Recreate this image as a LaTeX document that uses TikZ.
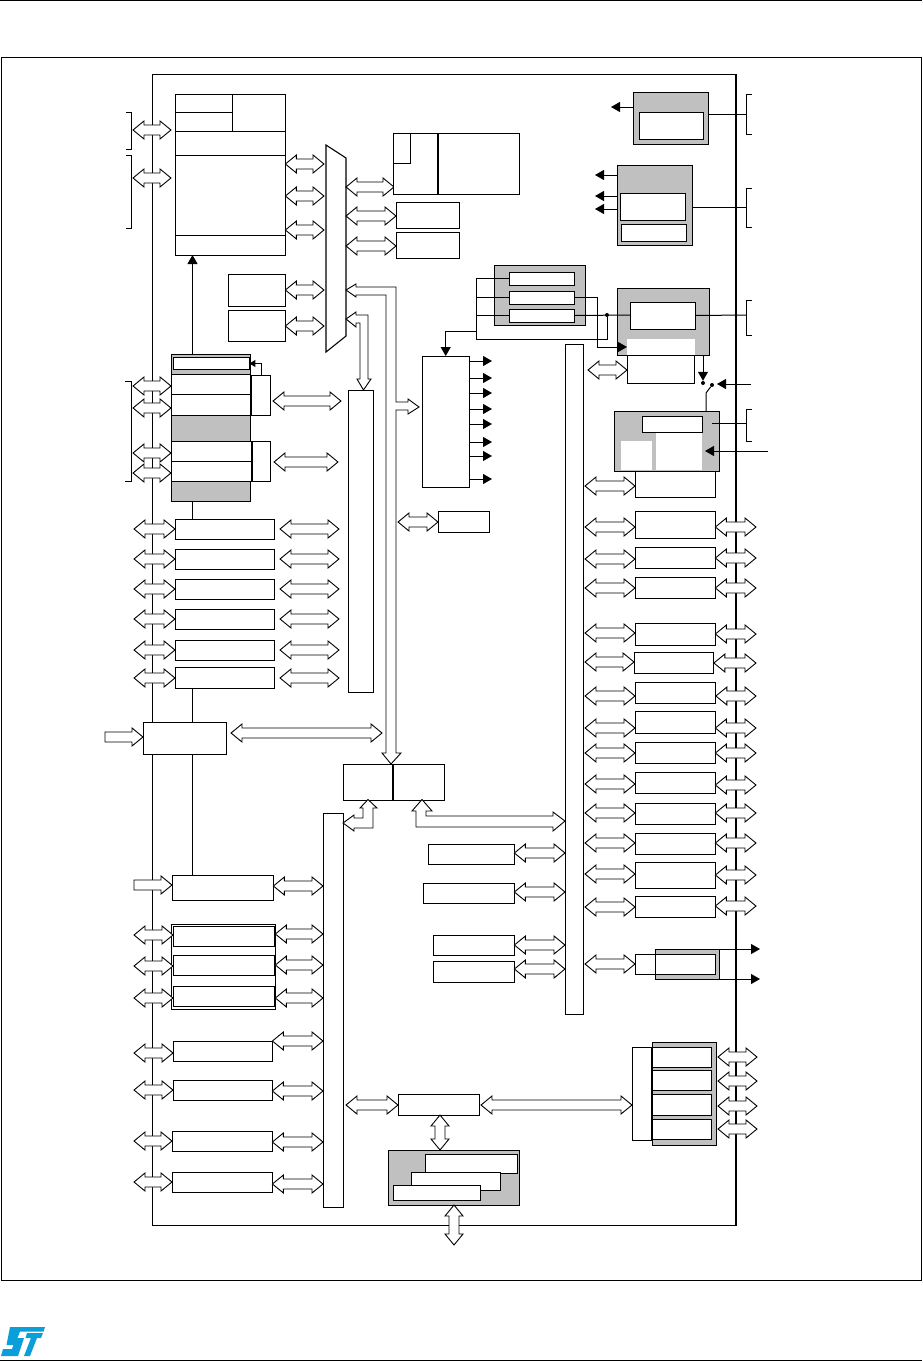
\documentclass[tikz,border=0pt]{standalone}
\usetikzlibrary{calc,arrows.meta}
\definecolor{gr}{HTML}{C0C0C0}
\definecolor{stblue}{HTML}{0B9FD9}
\tikzset{
  blk/.style={draw=black,line width=1pt,fill=white,inner sep=0pt,outer sep=0pt,anchor=north west},
  grey/.style={fill=gr},
  bare/.style={draw=none},
  ba/.style={draw=black,line width=0.9pt,fill=white,line join=miter},
  conn/.style={draw=black,line width=1pt},
  sa/.style={conn,-{Triangle[length=9pt,width=10pt]}},
  dotn/.style={circle,fill=black,inner sep=0pt,minimum size=4pt},
}
% box by corners
\newcommand\bx[6][]{\node[blk,#1,minimum width={(#4-#2-0.6)*1pt},minimum height={(#5-#3)*1pt}] (#6) at (#2,#3) {};}
% horizontal double block arrow between two coordinates at height y
\newcommand\dah[3]{\draw[ba] let \p1=(#1),\p2=(#2) in
  (\x1,#3) -- ([shift={(11,-9)}]\x1,#3) -- ([shift={(11,-5)}]\x1,#3) -- ([shift={(-11,-5)}]\x2,#3) -- ([shift={(-11,-9)}]\x2,#3) -- (\x2,#3)
  -- ([shift={(-11,9)}]\x2,#3) -- ([shift={(-11,5)}]\x2,#3) -- ([shift={(11,5)}]\x1,#3) -- ([shift={(11,9)}]\x1,#3) -- cycle;}
% vertical double block arrow
\newcommand\dav[3]{\draw[ba] let \p1=(#2),\p2=(#3) in
  (#1,\y1) -- ([shift={(9,11)}]#1,\y1) -- ([shift={(5,11)}]#1,\y1) -- ([shift={(5,-11)}]#1,\y2) -- ([shift={(9,-11)}]#1,\y2) -- (#1,\y2)
  -- ([shift={(-9,-11)}]#1,\y2) -- ([shift={(-5,-11)}]#1,\y2) -- ([shift={(-5,11)}]#1,\y1) -- ([shift={(-9,11)}]#1,\y1) -- cycle;}
% single block arrow with flat tail
\newcommand\rah[3]{\draw[ba] let \p1=(#1),\p2=(#2) in
  ([shift={(0,-5)}]\x1,#3) -- ([shift={(-11,-5)}]\x2,#3) -- ([shift={(-11,-9)}]\x2,#3) -- (\x2,#3)
  -- ([shift={(-11,9)}]\x2,#3) -- ([shift={(-11,5)}]\x2,#3) -- ([shift={(0,5)}]\x1,#3) -- cycle;}
\begin{document}
\begin{tikzpicture}[x=1pt,y=-1pt]
\useasboundingbox (0,0) rectangle (922,1361);
% page furniture
\coordinate (pgTL) at (0,0.5); \coordinate (pgTR) at (922,0.5);
\coordinate (pgBL) at (0,1360); \coordinate (pgBR) at (922,1360);
\draw[conn] (pgTL) -- (pgTR);
\draw[conn] (pgBL) -- (pgBR);
\draw[conn] (1.5,57) rectangle (921,1280);
\fill[stblue] (10,1327) -- (45,1327) -- (43.5,1331.5) -- (20,1331.5) -- (17.5,1338) -- (24,1338) -- (18,1356) -- (1,1356) -- (3,1349) -- (12,1349) -- (13.5,1345) -- (6.5,1345) -- cycle;
\fill[stblue] (27,1333) -- (43,1333) -- (41,1338) -- (37,1338) -- (30,1356) -- (24,1356) -- (31,1338) -- (25.5,1338) -- cycle;
% chip outline
\draw[conn] (736,74) -- (152,74) -- (152,1225) -- (736,1225);
\draw[draw=black,line width=2pt] (736,73.5) -- (736,1226);
% rails
\coordinate (lp) at (134,0); \coordinate (lq) at (133,0); \coordinate (rp) at (756,0);
\coordinate (busA) at (585,0); \coordinate (muxW) at (324,0); \coordinate (muxE) at (346,0);
\coordinate (colW) at (339,0); \coordinate (lowC) at (323,0); \coordinate (tcolW) at (565,0);
% brackets
\draw[conn] (126,112) -- (131.5,112) -- (131.5,149) -- (126,149);
\draw[conn] (126,155) -- (131.5,155) -- (131.5,228) -- (126,228);
\draw[conn] (125,381.5) -- (131.5,381.5) -- (131.5,481) -- (125,481);
\draw[conn] (752,94) -- (746,94) -- (746,134) -- (752,134);
\draw[conn] (752,188) -- (746,188) -- (746,227) -- (752,227);
\draw[conn] (752,300) -- (746,300) -- (746,335) -- (752,335);
\draw[conn] (752,409) -- (746,409) -- (746,441) -- (752,441);
% flash block
\bx{175}{94}{286}{255}{flash}
\draw[conn] (175,131) -- (flash.east |- 0,131) (175,155) -- (flash.east |- 0,155) (175,235) -- (flash.east |- 0,235) (232,94) -- (232,131) (175,112) -- (232,112);
\bx{228}{274}{286}{306}{memA}
\bx{228}{310}{286}{341}{memB}
\dah{lq}{171,0}{130}
\dah{lq}{171,0}{178}
% bus matrix
\draw[ba,line width=1.1pt] (326,145) -- (346,158) -- (346,336) -- (326,352) -- cycle;
\foreach \yy in {164,196,230,290,326} {\dah{flash.east}{muxW}{\yy}}
\dah{muxE}{394,0}{187}
\dah{muxE}{396,0}{216}
\dah{muxE}{396,0}{246}
\bx{393}{133}{520}{194}{core}
\bx{393}{133}{411}{163}{coreA}
\draw[draw=black,line width=1.5pt] (438,133) -- (438,194);
\bx{396}{202}{460}{228}{regA}
\bx{396}{232}{460}{258}{regB}
% left stack
\bx[grey]{171}{354.5}{251}{374}{stTop}
\bx{173.5}{357.5}{250}{369.5}{stIn}
\bx{171}{374}{251}{394}{stA}
\bx{171}{394}{251}{415.5}{stB}
\bx[grey]{171}{415.5}{251}{441}{stC}
\bx{171}{441}{252}{461}{stD}
\bx{171}{461}{252}{481}{stE}
\bx[grey]{171}{481}{251}{501}{stF}
\bx{251}{375}{271}{415.5}{sdA}
\bx{252}{441}{271}{481}{sdB}
\draw[conn,-{Triangle[length=6pt,width=7pt]}] (261,375) |- (stIn.east);
\draw[sa] (stTop.north -| 192.5,0) -- (flash.south -| 192.5,0);
% peripheral column left
\bx{348}{390}{374}{692}{colA}
\foreach \yy in {386,408,453,473} {\dah{lq}{stA.west}{\yy}}
\dah{273,0}{341,0}{401}
\dah{274,0}{338,0}{462}
\bx{175}{519}{275}{539}{pA}
\bx{175}{549}{275}{569}{pB}
\bx{175}{579}{275}{599}{pC}
\bx{175}{609}{275}{629}{pD}
\bx{175}{640}{275}{660}{pE}
\bx{175}{667}{275}{688}{pF}
\foreach \yy in {529,559,589,619,650,678} {\dah{lp}{pA.west}{\yy}\dah{280,0}{colW}{\yy}}
% vertical link
\bx{143}{722}{227}{754}{extA}
\rah{105,0}{extA.west}{737}
\bx{172}{875}{274}{900}{extB}
\rah{lp}{extB.west}{885}
\draw[conn] (stF.south -| 192.5,0) -- (pA.north -| 192.5,0);
\draw[conn] (pF.south -| 192.5,0) -- (extA.north -| 192.5,0);
\draw[conn] (extA.south -| 192.5,0) -- (extB.north -| 192.5,0);
% lower column
\bx{323}{813}{344}{1207}{colB}
\dah{extB.east}{lowC}{886}
\bx{171}{924}{276}{1009.5}{grpT}
\bx{173}{926}{275}{946}{tA}
\bx{173}{955}{275}{975}{tB}
\bx{173}{986}{275}{1006}{tC}
\foreach \yy in {935,966,998} {\dah{lp}{tA.west}{\yy}}
\foreach \yy in {934,965,998} {\dah{grpT.east}{lowC}{\yy}}
\bx{173}{1041}{273}{1061}{uA}
\bx{173}{1080}{273}{1100}{uB}
\bx{172}{1131}{273}{1151}{uC}
\bx{172}{1172}{273}{1192}{uD}
\dah{lp}{uA.west}{1053}
\dah{lp}{uB.west}{1090}
\dah{lp}{uC.west}{1141}
\dah{lp}{uD.west}{1182}
\dah{uA.east}{lowC}{1041}
\dah{uB.east}{lowC}{1091}
\dah{uC.east}{lowC}{1142}
\dah{uD.east}{lowC}{1184}
% central bridge
\bx{343}{764}{393}{800}{brL}
\bx{393}{764}{445}{800}{brR}
\dah{231,0}{382,0}{733}
\draw[ba] (346,290) -- (356,284) -- (356,287) -- (396,287) -- (396,402) -- (408,402) -- (408,399) -- (419,407) -- (408,414) -- (408,410) -- (396,410) -- (396,753) -- (401,753) -- (391,764) -- (382,753) -- (386,753) -- (386,295) -- (356,295) -- (356,297) -- cycle;
\draw[ba] (346,319) -- (356,312) -- (356,315) -- (368,315) -- (368,379) -- (371,379) -- (363.5,390) -- (357,379) -- (360,379) -- (360,323) -- (356,323) -- (356,327) -- cycle;
\draw[ba] (343,823) -- (354,815) -- (354,818) -- (363,818) -- (363,808) -- (360,808) -- (368,799.5) -- (377,808) -- (373,808) -- (373,828) -- (354,828) -- (354,831) -- cycle;
\draw[ba] (422,799.5) -- (432,811) -- (426,811) -- (426,816) -- (553,816) -- (553,812) -- (565,821) -- (553,831) -- (553,827) -- (416,827) -- (416,811) -- (412,811) -- cycle;
\bx{428}{844}{515}{864}{mA}
\bx{423}{883}{515}{903}{mB}
\bx{433}{935}{515}{955}{mC}
\bx{433}{961}{515}{982}{mD}
\dah{mA.east}{tcolW}{853}
\dah{mB.east}{tcolW}{892}
\dah{mC.east}{tcolW}{945}
\dah{mD.east}{tcolW}{969}
% tall column
\bx{565}{344.5}{584}{1014}{colC}
% clock tree
\bx{422}{356}{470}{487}{clk}
\foreach \yy in {361,378,393,409,424,442,456,479} {
  \coordinate (t\yy) at (492,\yy);
  \draw[sa] (clk.east |- t\yy) -- (t\yy);
}
\bx{438}{511}{490}{532}{iwdg}
\dah{398,0}{iwdg.west}{522}
% PLL
\bx[grey]{494}{265}{586}{325}{pll}
\bx{509}{272}{575}{285}{pllA}
\bx{509}{291}{575}{304}{pllB}
\bx{509}{309}{575}{322}{pllC}
% HSE
\bx[grey]{617}{288}{710.5}{355}{hse}
\bx[bare,fill=white]{627}{339}{696}{355}{hseW}
\bx{627}{355}{695.5}{383}{hseB}
\coordinate (busT) at (476,278.5); \coordinate (busB) at (476,339); \coordinate (busM) at (476,331);
\coordinate (jog) at (597,347);
\node[dotn] (dotA) at (607,315) {};
\coordinate (hseMid) at (630,315);
\draw[conn] (pllA.west) -- (busT) -- (busB) -| (dotA);
\draw[conn] (pllB.west) -- (pllB.west -| busT);
\draw[conn] (pllC.west) -- (pllC.west -| busT);
\draw[conn] (pllC.east) -- (hseMid);
\draw[sa] (busM) -| (clk.north);
\draw[sa] (pllB.east) -| (jog) -- (hseW.west);
\bx{630}{302}{696}{329}{hseIn}
\coordinate (brkH) at (746,315);
\draw[conn] (hseIn.east) -- (brkH);
\dah{588,0}{hseB.west}{370}
% switch
\node[dotn] (swA) at (703,383) {};
\node[dotn] (swB) at (712,385) {};
\coordinate (swIn) at (751,384);
\coordinate (swMid) at (706,393);
\draw[sa] (hse.south -| swA) -- (swA);
\draw[sa] (swIn) -- (717,384);
% RTC
\bx[grey]{614.5}{411}{720}{471}{rtc}
\bx[bare,fill=white]{621}{441}{653}{470}{rtcL}
\bx[bare,fill=white]{656}{433}{703}{470}{rtcR}
\bx{642}{416}{703}{432}{rtcT}
\draw[conn] (swB) -- (swMid) -- (rtc.north -| swMid);
\coordinate (brkR) at (746,423.5); \coordinate (rtcP) at (712,423.5);
\draw[conn] (rtcP) -- (brkR);
\coordinate (rtcIn) at (768,451);
\draw[sa] (rtcIn) -- (705,451);
\bx{635}{471}{716}{497}{rtcB}
\dah{busA}{rtcB.west}{486}
% top right
\bx[grey]{633}{92}{709.5}{144.5}{wkA}
\bx{639}{112}{704.5}{139}{wkB}
\coordinate (wkT) at (611,107);
\draw[sa] (wkA.west |- wkT) -- (wkT);
\coordinate (brkW) at (746,114);
\draw[conn] (wkA.east |- brkW) -- (brkW);
\bx[grey]{617}{165}{693.5}{245}{rcA}
\bx{620}{193}{686}{220}{rcB}
\bx{621}{224}{687}{241.5}{rcC}
\foreach \yy in {175,196,209} {
  \coordinate (r\yy) at (595,\yy);
  \draw[sa] (rcA.west |- r\yy) -- (r\yy);
}
\coordinate (brkC) at (746,207);
\draw[conn] (rcA.east |- brkC) -- (brkC);
% right peripherals
\bx{635}{511}{716}{538}{q1}
\bx{635}{547}{716}{568}{q2}
\bx{635}{577}{716}{598}{q3}
\bx{635}{623}{716}{645}{q4}
\bx{634}{652}{714.5}{673}{q5}
\bx{635}{682}{716.5}{703}{q6}
\bx{635}{711}{716}{733}{q7}
\bx{635}{742}{716}{763}{q8}
\bx{635}{772}{716}{793}{q9}
\bx{635}{803}{716}{824}{q10}
\bx{635}{833}{716}{854}{q11}
\bx{635}{862}{716}{888}{q12}
\bx{635}{896}{716}{917}{q13}
\foreach \nn/\yl/\yr in {1/527/527,2/559/558,3/588/588,4/633/634,5/662/663,6/696/696,7/728/728,8/753/753,9/784/785,10/813/813,11/843/843,12/874/875,13/907/906} {
  \dah{busA}{q\nn.west}{\yl}
  \dah{q\nn.east}{rp}{\yr}
}
% timer at bottom right
\bx[grey]{655}{949}{720}{979}{tmG}
\coordinate (tmO1) at (760,949); \coordinate (tmO2) at (760,979);
\draw[sa] (tmG.north east) -- (tmO1);
\draw[sa] (tmG.south east) -- (tmO2);
\bx{635}{954}{716}{974}{tmW}
\draw[conn] (655,949) -- (655,979);
\dah{busA}{tmW.west}{964}
% FSMC
\bx[grey]{652}{1042}{717}{1145}{gpG}
\bx{632}{1047}{652}{1140}{gpS}
\bx{652}{1047}{712}{1067}{gpA}
\bx{652}{1070}{712}{1090}{gpB}
\bx{652}{1094}{712}{1115}{gpC}
\bx{652}{1119}{712}{1139}{gpD}
\foreach \yy in {1057,1081,1106,1129} {\dah{718,0}{757,0}{\yy}}
\bx{398}{1094}{480}{1115}{ctl}
\dah{346,0}{ctl.west}{1105}
\dah{481,0}{gpS.west}{1105}
\bx[grey]{388}{1150}{520.5}{1205}{ext}
\bx{425}{1154}{518}{1173}{extP}
\bx{411}{1172}{501}{1190}{extQ}
\bx{393}{1185}{481}{1200}{extR}
\dav{440}{ctl.south}{ext.north}
\dav{454}{ext.south}{454,1245}
\end{tikzpicture}
\end{document}
